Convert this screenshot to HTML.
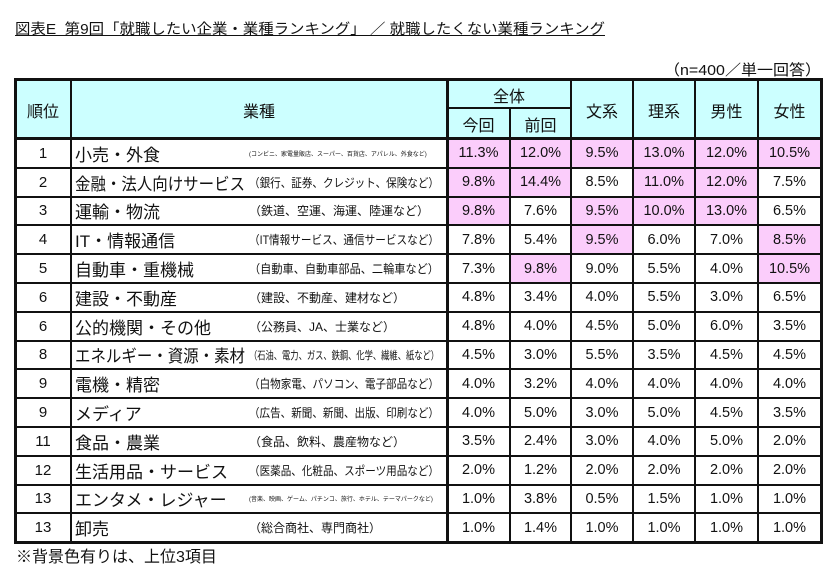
<!DOCTYPE html>
<html><head><meta charset="utf-8">
<style>
body{margin:0;width:840px;height:573px;background:#fff;position:relative;overflow:hidden;font-family:"Liberation Sans","Noto Sans CJK JP",sans-serif;color:#111}
.a{position:absolute;box-sizing:border-box;white-space:nowrap}
.fit{transform-origin:0 50%;display:inline-block}
</style></head><body>
<div class="a" style="left:15px;top:18px;font-size:14.5px;"><span id="title" class="fit" style="text-decoration:underline;">図表E&nbsp; 第9回「就職したい企業・業種ランキング」 ／ 就職したくない業種ランキング</span></div>
<div class="a" style="left:664px;top:59px;font-size:15px;"><span id="note" class="fit">（n=400／単一回答）</span></div>
<div id="t"></div>
<div class="a" style="left:16px;top:543px;font-size:16px;">※背景色有りは、上位3項目</div>
<script>
const ranks=["1","2","3","4","5","6","6","8","9","9","11","12","13","13"];
const names=["小売・外食","金融・法人向けサービス","運輸・物流","IT・情報通信","自動車・重機械","建設・不動産","公的機関・その他","エネルギー・資源・素材","電機・精密","メディア","食品・農業","生活用品・サービス","エンタメ・レジャー","卸売"];
const descs=["(コンビニ、家電量販店、スーパー、百貨店、アパレル、外食など)","（銀行、証券、クレジット、保険など）","（鉄道、空運、海運、陸運など）","（IT情報サービス、通信サービスなど）","（自動車、自動車部品、二輪車など）","（建設、不動産、建材など）","（公務員、JA、士業など）","（石油、電力、ガス、鉄鋼、化学、繊維、紙など）","（白物家電、パソコン、電子部品など）","（広告、新聞、新聞、出版、印刷など）","（食品、飲料、農産物など）","（医薬品、化粧品、スポーツ用品など）","(音楽、映画、ゲーム、パチンコ、旅行、ホテル、テーマパークなど)","（総合商社、専門商社）"];
const descSize=[6,12,12,12,12,12,12,11,12,12,12,12,6,12];
const nowVals=[11.3,9.8,9.8,7.8,7.3,4.8,4.8,4.5,4.0,4.0,3.5,2.0,1.0,1.0];
const prevVals=[12.0,14.4,7.6,5.4,9.8,3.4,4.0,3.0,3.2,5.0,2.4,1.2,3.8,1.4];
const bunVals=[9.5,8.5,9.5,9.5,9.0,4.0,4.5,5.5,4.0,3.0,3.0,2.0,0.5,1.0];
const riVals=[13.0,11.0,10.0,6.0,5.5,5.5,5.0,3.5,4.0,5.0,4.0,2.0,1.5,1.0];
const maleVals=[12.0,12.0,13.0,7.0,4.0,3.0,6.0,4.5,4.0,4.5,5.0,2.0,1.0,1.0];
const femVals=[10.5,7.5,6.5,8.5,10.5,6.5,3.5,4.5,4.0,3.5,2.0,2.0,1.0,1.0];
const series=[nowVals,prevVals,bunVals,riVals,maleVals,femVals];
const seriesNames=["now","prev","bunkei","rikei","male","female"];
const colX=[447,510,571,633,695,758,821];
const L=15,T=80,HB=139,RH=28.8;
const t=document.getElementById('t');
function box(x,y,w,h,st,txt,name){const d=document.createElement('div');d.className='a';d.style.cssText=`left:${x}px;top:${y}px;width:${w}px;height:${h}px;`+st;if(txt!==undefined)d.textContent=txt;


t.appendChild(d);return d;}
function fitSpan(parent,txt,maxW,name){const s=document.createElement('span');s.className='fit';s.textContent=txt;


parent.appendChild(s);const w=s.getBoundingClientRect().width;if(w>maxW)s.style.transform=`scaleX(${maxW/w})`;return s;}
const hc='background:#ccffff;display:flex;align-items:center;justify-content:center;font-size:16px;';
box(L,T,821-L,HB-T,'background:#ccffff;','', 'header-bg');
box(L,T,56,HB-T,hc,'順位','header-rank');
box(71,T,376,HB-T,hc,'業種','header-industry');
box(447,T,124,29,hc,'全体','header-overall');
box(447,108,63,31,hc,'今回','header-now');
box(510,108,61,31,hc,'前回','header-prev');
['文系','理系','男性','女性'].forEach((s,i)=>box(colX[i+2],T,colX[i+3]-colX[i+2],HB-T,hc,s,'header-col-'+i));
series.forEach((vals,c)=>{const sorted=[...vals].sort((a,b)=>b-a);const th=sorted[2];
vals.forEach((v,r)=>{const y=HB+r*RH;const hl=v>=th;
box(colX[c],y,colX[c+1]-colX[c],RH,(hl?'background:#fbcdfb;':'')+'display:flex;align-items:center;justify-content:center;font-size:14.5px;',v.toFixed(1)+'%','cell-'+seriesNames[c]+'-'+(r+1));});});
ranks.forEach((rk,r)=>{const y=HB+r*RH;
box(L,y,56,RH,'display:flex;align-items:center;justify-content:center;font-size:15px;',rk,'rank-'+(r+1));
const nb=box(75,y,175,RH,'display:flex;align-items:center;font-size:17px;',undefined,'industry-name-cell-'+(r+1));
fitSpan(nb,names[r],170,'industry-name-'+(r+1));
const db=box(249,y,196,RH,`display:flex;align-items:center;font-size:${descSize[r]}px;`,undefined,'industry-desc-cell-'+(r+1));
fitSpan(db,descs[r],190,'industry-desc-'+(r+1));});
// title/note fit
(function(){const s=document.getElementById('title');const w=s.getBoundingClientRect().width;s.style.transform=`scaleX(${590/w})`;
const n=document.getElementById('note');const w2=n.getBoundingClientRect().width;n.style.transform=`scaleX(${157/w2})`;})();
const bottom=HB+14*RH;
function ln(x,y,w,h,n){box(x,y,w,h,'background:#111;',undefined,n);}
ln(L,T-2,821-L,3,'border-top');
ln(L,HB-2,821-L,3,'header-border');
for(let r=1;r<14;r++)ln(L,HB+r*RH-1,821-L,2,'row-line');
ln(L,bottom-1,821-L,3,'border-bottom');
ln(447,107,124,2,'subheader-line');
ln(L-1,T-2,3,bottom-T+4,'border-left');
ln(70,T,2,bottom-T,'col-line');
ln(446,T,3,bottom-T,'col-line');
ln(509,107,2,bottom-107,'col-line');
ln(570,T,2,bottom-T,'col-line');
[633,695,758].forEach(x=>ln(x-1,T,2,bottom-T,'col-line'));
ln(820,T-2,3,bottom-T+4,'border-right');
</script>
</body></html>
